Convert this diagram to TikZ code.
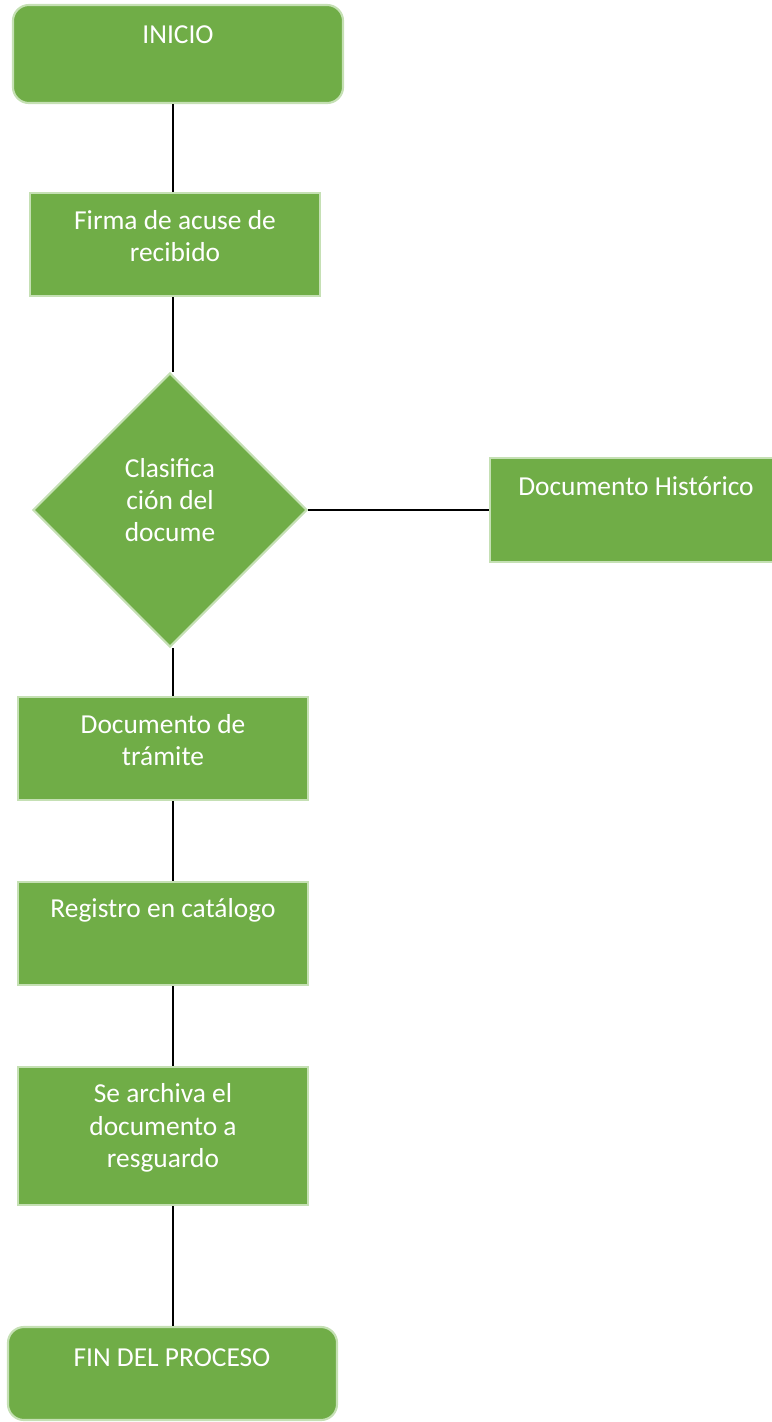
\documentclass[tikz,border=0pt]{standalone}
\usepackage{fontspec}
\setmainfont{Carlito}
\usetikzlibrary{shapes.geometric}
\definecolor{verde}{HTML}{70AD47}
\definecolor{borde}{HTML}{C5E0B4}
\tikzset{
  caja/.style={draw=borde, line width=1.5pt, fill=verde, inner sep=0pt},
  inicial/.style={caja, rounded corners=0.4cm},
  rombo/.style={caja, diamond, aspect=1},
  texto/.style={text=white, align=center, inner sep=0pt, font=\fontsize{19.5}{23}\selectfont},
  linea/.style={line width=1.5pt}
}
\begin{document}
\begin{tikzpicture}[x=0.025cm, y=-0.025cm]
\useasboundingbox (0,0) rectangle (771,1422);

% Dibuja las cajas
\node[inicial, minimum width=8.25cm, minimum height=2.45cm] (inicio) at (178,54) {};
\node[caja, minimum width=7.25cm, minimum height=2.575cm] (firma) at (175,244.5) {};
\node[rombo, minimum width=6.85cm, minimum height=6.85cm] (clasif) at (170,510) {};
\node[caja, minimum width=7.125cm, minimum height=2.6cm] (historico) at (632.5,510) {};
\node[caja, minimum width=7.25cm, minimum height=2.575cm] (tramite) at (163,748.5) {};
\node[caja, minimum width=7.25cm, minimum height=2.575cm] (registro) at (163,933.5) {};
\node[caja, minimum width=7.25cm, minimum height=3.45cm] (archiva) at (163,1136) {};
\node[inicial, minimum width=8.225cm, minimum height=2.325cm] (fin) at (172.5,1373.5) {};

% Etiqueta las cajas
\node[texto] (tinicio) at (178,35) {INICIO};
\node[texto] (tfirma) at (175,236) {Firma de acuse de\\recibido};
\node[texto] (tclasif) at (170,500) {Clasifica\\ción del\\docume};
\node[texto] (thistorico) at (636,486) {Documento Histórico};
\node[texto] (ttramite) at (163,740) {Documento de\\trámite};
\node[texto] (tregistro) at (163,910) {Registro en catálogo};
\node[texto] (tarchiva) at (163,1128) {Se archiva el\\documento a\\resguardo};
\node[texto] (tfin) at (172,1358) {FIN DEL PROCESO};

% Dibuja las lineas
\coordinate (eje) at (173,0);
\draw[linea] (inicio.south -| eje) -- (firma.north -| eje);
\draw[linea] (firma.south -| eje) -- (clasif.north -| eje);
\draw[linea] (clasif.south -| eje) -- (tramite.north -| eje);
\draw[linea] (tramite.south -| eje) -- (registro.north -| eje);
\draw[linea] (registro.south -| eje) -- (archiva.north -| eje);
\draw[linea] (archiva.south -| eje) -- (fin.north -| eje);
\draw[linea] (clasif.east) -- (historico.west |- clasif.east);

\end{tikzpicture}
\end{document}
